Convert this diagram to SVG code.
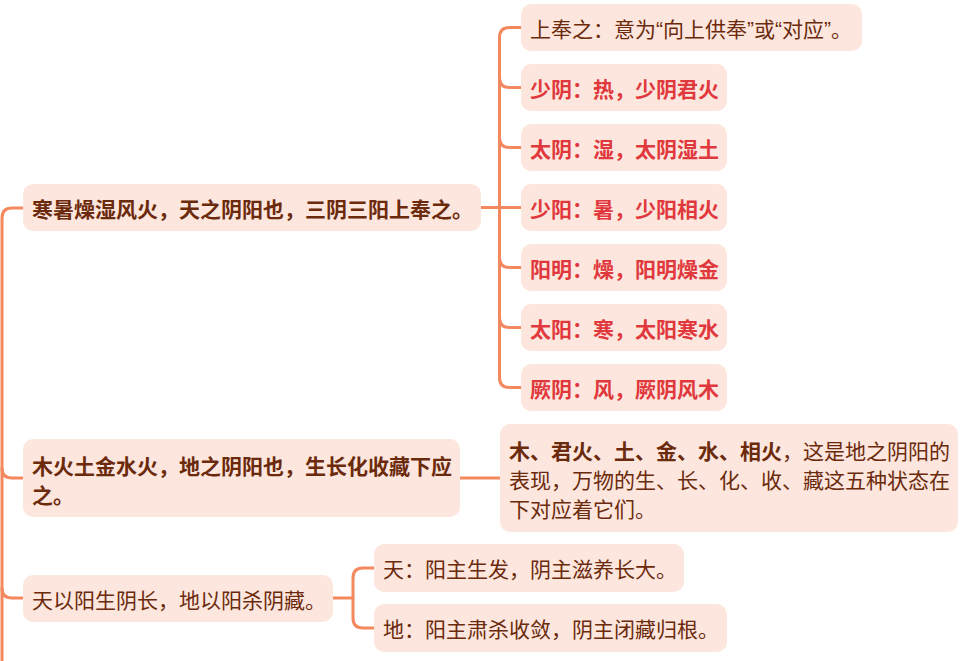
<svg xmlns="http://www.w3.org/2000/svg" width="966" height="661" viewBox="0 0 966 661">
<style>
.box{fill:#fde6dd}
.t{font-family:"Noto Sans CJK SC","Noto Sans",sans-serif;font-size:21px;fill:#6b2a0c;dominant-baseline:central}
.b{font-weight:bold}
.r{fill:#e0383c;font-weight:bold}
.q{font-family:"Liberation Sans",sans-serif}
.c{fill:none;stroke:#f4885e;stroke-width:3;stroke-linecap:round}
</style>
<rect width="966" height="661" fill="#ffffff"/>
<g id="connectors">
<path class="c" d="M2 661 V218 Q2 208 12 208 H23"/>
<path class="c" d="M2 468 Q2 478 12 478 H23"/>
<path class="c" d="M2 588 Q2 598 12 598 H23"/>
<path class="c" d="M481 207.5 H521"/>
<path class="c" d="M521 27.5 H509.5 Q499.5 27.5 499.5 37.5 V377.5 Q499.5 387.5 509.5 387.5 H521"/>
<path class="c" d="M499.5 77.5 Q499.5 87.5 509.5 87.5 H521"/>
<path class="c" d="M499.5 137.5 Q499.5 147.5 509.5 147.5 H521"/>
<path class="c" d="M499.5 257.5 Q499.5 267.5 509.5 267.5 H521"/>
<path class="c" d="M499.5 317.5 Q499.5 327.5 509.5 327.5 H521"/>
<path class="c" d="M460 478 H500"/>
<path class="c" d="M333 598 H353"/>
<path class="c" d="M374 568 H363 Q353 568 353 578 V618 Q353 628 363 628 H374"/>
</g>
<g id="n1">
<rect class="box" x="23" y="184" width="458" height="47" rx="10"/>
<text class="t b" x="32" y="207.5">寒暑燥湿风火，天之阴阳也，三阴三阳上奉之。</text>
</g>
<g id="n1c0">
<rect class="box" x="521" y="4" width="341" height="47" rx="10"/>
<text class="t" x="530" y="27.5">上奉之：意为<tspan class="q">“</tspan>向上供奉<tspan class="q">”</tspan>或<tspan class="q">“</tspan>对应<tspan class="q">”</tspan>。</text>
</g>
<g id="n1c1">
<rect class="box" x="521" y="64" width="206" height="47" rx="10"/>
<text class="t r" x="530" y="87.5">少阴：热，少阴君火</text>
</g>
<g id="n1c2">
<rect class="box" x="521" y="124" width="206" height="47" rx="10"/>
<text class="t r" x="530" y="147.5">太阴：湿，太阴湿土</text>
</g>
<g id="n1c3">
<rect class="box" x="521" y="184" width="206" height="47" rx="10"/>
<text class="t r" x="530" y="207.5">少阳：暑，少阳相火</text>
</g>
<g id="n1c4">
<rect class="box" x="521" y="244" width="206" height="47" rx="10"/>
<text class="t r" x="530" y="267.5">阳明：燥，阳明燥金</text>
</g>
<g id="n1c5">
<rect class="box" x="521" y="304" width="206" height="47" rx="10"/>
<text class="t r" x="530" y="327.5">太阳：寒，太阳寒水</text>
</g>
<g id="n1c6">
<rect class="box" x="521" y="364" width="206" height="47" rx="10"/>
<text class="t r" x="530" y="387.5">厥阴：风，厥阴风木</text>
</g>
<g id="n2">
<rect class="box" x="23" y="439" width="437" height="78" rx="10"/>
<text class="t b" x="32" y="464.5">木火土金水火，地之阴阳也，生长化收藏下应</text>
<text class="t b" x="32" y="493.5">之。</text>
</g>
<g id="n2c">
<rect class="box" x="500" y="424" width="458" height="108" rx="10"/>
<text class="t" x="509" y="449.5"><tspan class="b">木、君火、土、金、水、相火</tspan>，这是地之阴阳的</text>
<text class="t" x="509" y="478.5">表现，万物的生、长、化、收、藏这五种状态在</text>
<text class="t" x="509" y="507.5">下对应着它们。</text>
</g>
<g id="n3">
<rect class="box" x="23" y="575" width="310" height="47" rx="10"/>
<text class="t" x="32" y="598.5">天以阳生阴长，地以阳杀阴藏。</text>
</g>
<g id="n3c1">
<rect class="box" x="374" y="544" width="310" height="48" rx="10"/>
<text class="t" x="383" y="568">天：阳主生发，阴主滋养长大。</text>
</g>
<g id="n3c2">
<rect class="box" x="374" y="604" width="353" height="48" rx="10"/>
<text class="t" x="383" y="628">地：阳主肃杀收敛，阴主闭藏归根。</text>
</g>
</svg>
